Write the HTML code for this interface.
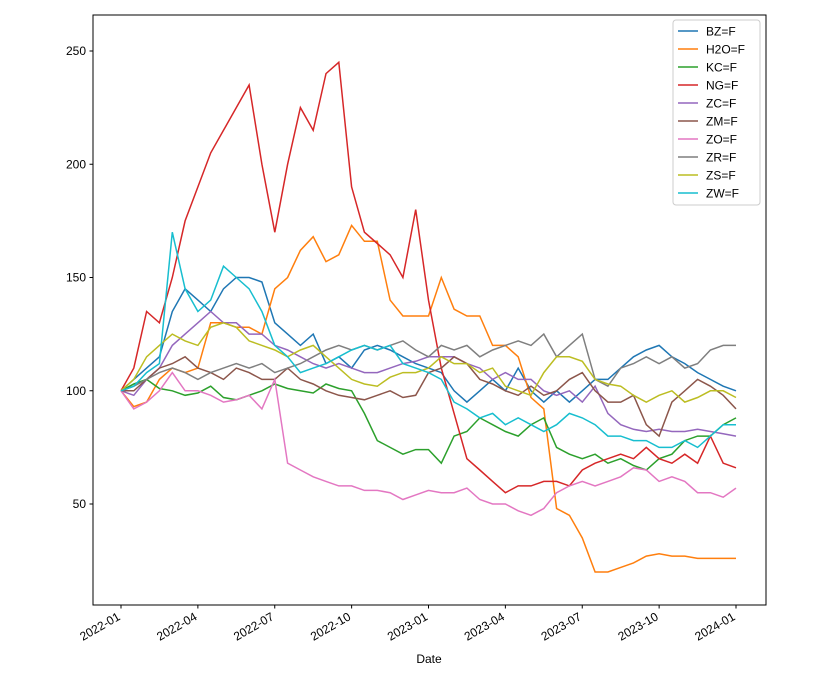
<!DOCTYPE html>
<html><head><meta charset="utf-8"><style>
body{margin:0;background:#fff;}
svg text{font-family:"Liberation Sans","DejaVu Sans",sans-serif;}
</style></head><body>
<svg id="chart" width="827" height="674" xmlns="http://www.w3.org/2000/svg"></svg>
<script>
const seriesNames=["BZ=F","H2O=F","KC=F","NG=F","ZC=F","ZM=F","ZO=F","ZR=F","ZS=F","ZW=F"];
const colors=["#1f77b4","#ff7f0e","#2ca02c","#d62728","#9467bd","#8c564b","#e377c2","#7f7f7f","#bcbd22","#17becf"];
const yTicks=[50,100,150,200,250];
const xTickLabels=["2022-01","2022-04","2022-07","2022-10","2023-01","2023-04","2023-07","2023-10","2024-01"];
// values at half-month steps from 2022-01 (49 points)
const BZ=[100,105,110,115,135,145,140,135,145,150,150,148,130,125,120,125,112,115,110,118,120,118,115,112,110,108,100,95,100,105,100,110,100,95,100,95,100,105,105,110,115,118,120,115,112,108,105,102,100];
const H2O=[100,93,95,105,110,108,110,130,130,128,128,125,145,150,162,168,157,160,173,166,166,140,133,133,133,150,136,133,133,120,120,115,97,92,48,45,35,20,20,22,24,27,28,27,27,26,26,26,26];
const KC=[100,103,105,101,100,98,99,102,97,96,98,100,103,101,100,99,103,101,100,90,78,75,72,74,74,68,80,82,88,85,82,80,85,88,75,72,70,72,68,70,67,65,70,72,78,80,80,85,88];
const NG=[100,110,135,130,150,175,190,205,215,225,235,200,170,200,225,215,240,245,190,170,165,160,150,180,140,110,90,70,65,60,55,58,58,60,60,58,65,68,70,72,70,75,70,68,72,68,80,68,66];
const ZC=[100,98,105,110,120,125,130,135,130,130,125,125,120,118,115,112,110,112,110,108,108,110,112,113,115,115,115,112,110,105,108,105,105,100,98,100,95,102,90,85,83,82,83,82,82,83,82,81,80];
const ZM=[100,100,105,110,112,115,110,108,105,110,108,105,105,110,105,103,100,98,97,96,98,100,97,98,108,110,115,112,105,103,100,98,102,98,100,105,108,100,95,95,98,85,80,95,100,105,102,98,92];
const ZO=[100,92,95,100,108,100,100,98,95,96,98,92,105,68,65,62,60,58,58,56,56,55,52,54,56,55,55,57,52,50,50,47,45,48,55,58,60,58,60,62,66,65,60,62,60,55,55,53,57];
const ZR=[100,102,105,108,110,108,105,108,110,112,110,112,108,110,112,115,118,120,118,120,118,120,122,118,115,120,118,120,115,118,120,122,120,125,115,120,125,105,102,110,112,115,112,115,110,112,118,120,120];
const ZS=[100,105,115,120,125,122,120,128,130,128,122,120,118,115,118,120,115,110,105,103,102,106,108,108,110,115,112,112,108,110,102,100,98,108,115,115,113,105,103,102,98,95,98,100,95,97,100,100,97];
const ZW=[100,102,108,112,170,145,135,140,155,150,145,135,120,115,108,110,112,115,118,120,118,120,112,110,108,105,95,92,88,90,85,88,85,82,85,90,88,85,80,80,78,78,75,75,78,75,80,85,85];
const allSeries=[BZ,H2O,KC,NG,ZC,ZM,ZO,ZR,ZS,ZW];

const svg=document.getElementById('chart');
const NS="http://www.w3.org/2000/svg";
const L=93,R=766,T=15,B=605;
function xs(k){return 121+k*(615/48);}
function ys(v){return 504-(v-50)*2.265;}
function mk(tag,attrs){const e=document.createElementNS(NS,tag);for(const k in attrs)e.setAttribute(k,attrs[k]);svg.appendChild(e);return e;}

const clip=mk('clipPath',{id:'pc'});
const cr=document.createElementNS(NS,'rect');cr.setAttribute('x',L);cr.setAttribute('y',T);cr.setAttribute('width',R-L);cr.setAttribute('height',B-T);clip.appendChild(cr);

allSeries.forEach((s,i)=>{
  const p=mk('polyline',{points:s.map((v,k)=>xs(k).toFixed(1)+','+ys(v).toFixed(1)).join(' '),fill:'none',stroke:colors[i],'stroke-width':1.5,'clip-path':'url(#pc)'});
  
  
});

const frame=mk('rect',{x:L,y:T,width:R-L,height:B-T,fill:'none',stroke:'#000','stroke-width':1});



yTicks.forEach(v=>{
  const y=ys(v);
  const t=mk('line',{x1:L-3.5,x2:L,y1:y,y2:y,stroke:'#000'});
  
  
  const tx=mk('text',{x:L-7,y:y+4,'text-anchor':'end','font-size':12});
  tx.textContent=v;
  
  
});
xTickLabels.forEach((lab,i)=>{
  const x=xs(i*6);
  const t=mk('line',{x1:x,x2:x,y1:B,y2:B+3.5,stroke:'#000'});
  
  
  const tx=mk('text',{x:x,y:B+14,'text-anchor':'end','font-size':12,transform:`rotate(-30 ${x} ${B+14})`});
  tx.textContent=lab;
  
  
});
const xt=mk('text',{x:429,y:663,'text-anchor':'middle','font-size':12});
xt.textContent='Date';



const lg=mk('rect',{x:673,y:20,width:87,height:185,rx:3,fill:'#fff','fill-opacity':0.8,stroke:'#ccc'});


seriesNames.forEach((n,i)=>{
  const y=31+i*18;
  const l=mk('line',{x1:678,x2:698,y1:y,y2:y,stroke:colors[i],'stroke-width':1.5});
  
  
  const t=mk('text',{x:706,y:y+4.5,'font-size':12});
  t.textContent=n;
  
  
});
</script>
</body></html>
